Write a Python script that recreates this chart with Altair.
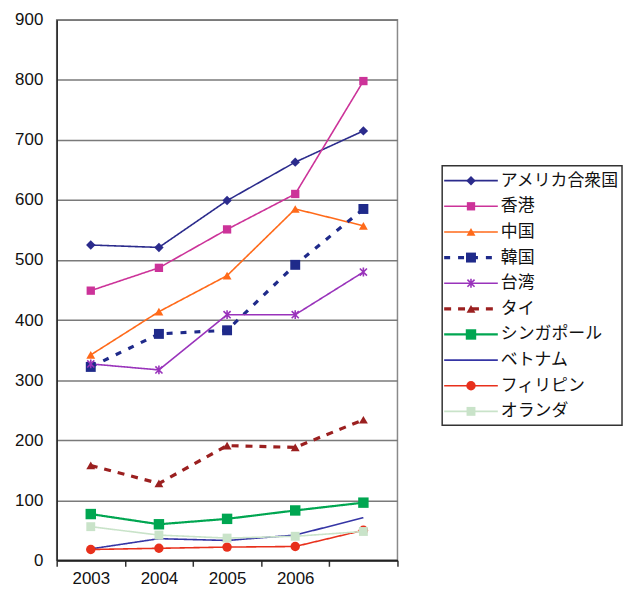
import json
import altair as alt
import pandas as pd

years = ["2003", "2004", "2005", "2006", "2007"]
series = ["アメリカ合衆国", "香港", "中国", "韓国", "台湾", "タイ",
          "シンガポール", "ベトナム", "フィリピン", "オランダ"]
usa = [525, 521, 599, 663, 715]
hongkong = [449, 487, 551, 610, 798]
china = [342, 414, 474, 585, 557]
korea = [322, 377, 383, 492, 585]
taiwan = [327, 317, 409, 409, 480]
thai = [158, 128, 191, 188, 234]
singapore = [77, 60, 69, 83, 96]
vietnam = [19, 36, 33, 42, 71]
philippines = [18, 20, 22, 23, 50]
netherlands = [56, 42, 37, 40, 48]
values = [usa, hongkong, china, korea, taiwan, thai, singapore, vietnam, philippines, netherlands]

# styles
colors = ["#2B2B8C", "#CC3399", "#FF6A1A", "#1F2A8A", "#9933BB", "#9B2020",
          "#00A651", "#3535A5", "#E8301C", "#C9E3C9"]
shapes = ["diamond", "square", "triangle-up", "square",
          "M-0.8,-0.8L0.8,0.8M-0.8,0.8L0.8,-0.8M0,-1L0,1",
          "triangle-up", "square", "circle", "circle", "square"]
sizes = [90, 70, 80, 100, 80, 80, 110, 1, 90, 80]
widths = [1.6, 1.6, 1.6, 3.2, 1.6, 3.2, 2.2, 1.6, 1.6, 1.6]
dashes = [[1, 0], [1, 0], [1, 0], [6, 8], [1, 0], [7, 7], [1, 0], [1, 0], [1, 0], [1, 0]]

rows = []
for s, vals in zip(series, values):
    for y, v in zip(years, vals):
        rows.append({"series": s, "year": y, "value": v})
df = pd.DataFrame(rows)
leg_df = pd.DataFrame({"series": series})
box_df = pd.DataFrame({"box": [0]})

idx_expr = "indexof(%s, datum.series)" % json.dumps(series, ensure_ascii=False)
size_expr = "%s[datum.idx]" % json.dumps(sizes)
width_expr = "%s[datum.idx]" % json.dumps(widths)

color = alt.Color("series:N", scale=alt.Scale(domain=series, range=colors), legend=None)
shape = alt.Shape("series:N", scale=alt.Scale(domain=series, range=shapes), legend=None)
size = alt.Size("sz:Q", scale=None, legend=None)
sw = alt.StrokeWidth("lw:Q", scale=None, legend=None)
sd = alt.StrokeDash("series:N", scale=alt.Scale(domain=series, range=dashes), legend=None)

xenc = alt.X("year:O", scale=alt.Scale(type="band", domain=years, paddingInner=0, paddingOuter=0),
             axis=alt.Axis(title=None, tickBand="extent", labelAngle=0, grid=False,
                           labelExpr="datum.value == '2007' ? '' : datum.value",
                           labelFont="Liberation Sans", labelFontSize=17, labelColor="#111",
                           labelPadding=4, tickSize=6, tickColor="#333", tickWidth=1.5,
                           domainColor="#222", domainWidth=2))
yenc = alt.Y("value:Q", scale=alt.Scale(domain=[0, 900], nice=False),
             axis=alt.Axis(title=None, values=list(range(0, 901, 100)), tickSize=0,
                           labelFont="Liberation Sans", labelFontSize=17, labelColor="#111",
                           labelPadding=14, grid=True, gridColor="#7A7A7A", gridWidth=1.5,
                           domainColor="#222", domainWidth=1.5))

base = alt.Chart(df).transform_calculate(idx=idx_expr).transform_calculate(
    sz=size_expr, lw=width_expr)
lines = base.mark_line().encode(x=xenc, y=yenc, color=color, strokeDash=sd, strokeWidth=sw,
                                detail="series:N")
pts_filled = base.transform_filter(
    "datum.series != '台湾' && datum.series != 'ベトナム'"
).mark_point(filled=True, opacity=1).encode(x=xenc, y=yenc, color=color, shape=shape, size=size)
pts_star = base.transform_filter("datum.series == '台湾'").mark_point(
    filled=False, opacity=1, strokeWidth=1.6
).encode(x=xenc, y=yenc, color=color, shape=shape, size=size)

main = alt.layer(lines, pts_filled, pts_star).properties(
    width=343, height=544, view=alt.ViewConfig(stroke="#8A8A8A", strokeWidth=1.5)
)

yleg = alt.Y("series:N", sort=series,
             scale=alt.Scale(domain=series, range=[149, 407], paddingInner=0, paddingOuter=0),
             axis=None)
lbase = alt.Chart(leg_df).transform_calculate(idx=idx_expr).transform_calculate(
    sz=size_expr, lw=width_expr)
leg_box = alt.Chart(box_df).mark_rect(filled=False, stroke="#333", strokeWidth=1.5).encode(
    x=alt.value(0), x2=alt.value(181), y=alt.value(147), y2=alt.value(408))
leg_lines = lbase.mark_rule().encode(x=alt.value(2), x2=alt.value(56), y=yleg,
                                     color=color, strokeDash=sd, strokeWidth=sw)
leg_pts = lbase.transform_filter(
    "datum.series != '台湾' && datum.series != 'ベトナム'"
).mark_point(filled=True, opacity=1).encode(x=alt.value(29), y=yleg, color=color, shape=shape, size=size)
leg_star = lbase.transform_filter("datum.series == '台湾'").mark_point(
    filled=False, opacity=1, strokeWidth=1.6
).encode(x=alt.value(29), y=yleg, color=color, shape=shape, size=size)
leg_text = lbase.mark_text(align="left", baseline="middle", font="Noto Sans CJK JP",
                           fontSize=17, color="#111").encode(
    x=alt.value(59), y=yleg, text="series:N")
legend = alt.layer(leg_box, leg_lines, leg_pts, leg_star, leg_text).properties(
    width=181, height=544, view=alt.ViewConfig(stroke="transparent")
)

chart = alt.hconcat(main, legend, spacing=41).properties(
    padding={"left": 5, "top": 0, "right": 0, "bottom": 0}
).configure(background="white")

chart.save("out.html", embed_options={"renderer": "svg", "actions": False})
